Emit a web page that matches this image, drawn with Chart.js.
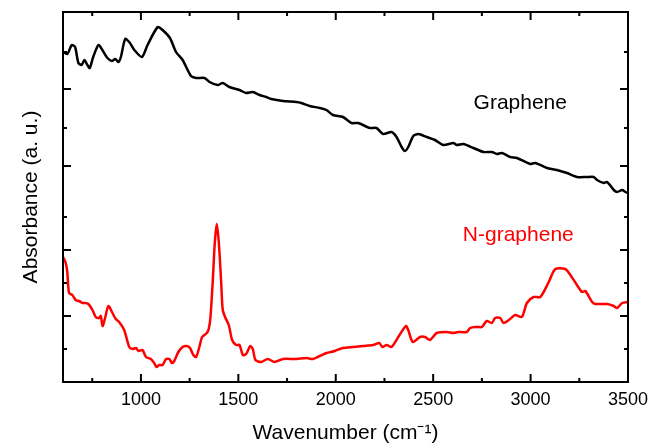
<!DOCTYPE html>
<html>
<head>
<meta charset="utf-8">
<script src="https://cdn.jsdelivr.net/npm/chart.js@4/dist/chart.umd.min.js"></script>
<style>
  body { margin: 0; background: #fff; }
  #wrap { width: 649px; height: 445px; }
</style>
</head>
<body>
<div id="wrap"><canvas id="chart1"></canvas></div>
<script>
// FTIR spectra, wavenumber in cm-1, absorbance in arbitrary units (curves offset)
const grapheneWn = [600, 622, 645, 662, 679, 696, 710, 725, 737, 755, 782, 802, 828, 851, 868, 885, 897, 919, 940, 966,
  1005, 1034, 1086, 1111, 1149, 1180, 1214, 1257, 1283, 1326, 1352, 1394, 1420, 1454, 1506, 1540, 1574, 1609, 1643, 1669,
  1729, 1798, 1823, 1866, 1918, 1952, 1986, 2037, 2081, 2115, 2175, 2209, 2243, 2286, 2312, 2338, 2355, 2372, 2398, 2424,
  2467, 2509, 2552, 2604, 2621, 2655, 2707, 2758, 2801, 2827, 2853, 2895, 2930, 2998, 3024, 3084, 3135, 3187, 3239, 3290,
  3324, 3341, 3376, 3393, 3427, 3444, 3470, 3487, 3500];
const grapheneAbs = [330, 328, 337, 335, 319, 317, 322, 317, 314, 325, 337, 332, 324, 321, 323, 320, 325, 343, 340, 332,
  325, 337, 355, 352, 344, 330, 322, 306, 304, 304, 300, 297, 299, 295, 292, 289, 290, 287, 285, 283,
  281, 280, 279, 276, 274, 272, 267, 265, 259, 259, 254, 254, 248, 250, 245, 235, 231, 235, 246, 248,
  245, 242, 237, 239, 237, 238, 234, 230, 230, 228, 229, 225, 224, 218, 219, 214, 212, 209, 205, 205,
  205, 202, 199, 200, 192, 190, 192, 190, 189];

const nGrapheneWn = [600, 614, 622, 631, 648, 665, 682, 700, 713, 730, 751, 768, 785, 794, 803, 816, 833, 854, 871, 888,
  914, 940, 957, 974, 988, 1008, 1026, 1051, 1068, 1080, 1094, 1111, 1129, 1146, 1159, 1171, 1192, 1214, 1235, 1252,
  1269, 1283, 1300, 1314, 1338, 1348, 1357, 1369, 1379, 1389, 1400, 1412, 1420, 1434, 1451, 1468, 1489, 1506, 1523, 1540,
  1561, 1574, 1588, 1617, 1651, 1686, 1729, 1798, 1849, 1883, 1918, 1952, 1995, 2037, 2089, 2141, 2192, 2223, 2240, 2261,
  2286, 2321, 2360, 2372, 2395, 2432, 2458, 2484, 2518, 2569, 2604, 2629, 2672, 2690, 2724, 2750, 2775, 2801, 2818, 2844,
  2861, 2895, 2921, 2955, 2981, 3015, 3050, 3093, 3127, 3178, 3204, 3238, 3264, 3281, 3316, 3333, 3393, 3427, 3444, 3470,
  3500];
const nGrapheneAbs = [125, 119, 110, 89, 87, 82, 81, 79, 79, 78, 72, 65, 64, 66, 56, 64, 76, 69, 63, 60,
  52, 35, 33, 34, 31, 32, 25, 23, 19, 15, 17, 17, 23, 23, 19, 21, 30, 35, 36, 34,
  27, 25, 35, 45, 49, 53, 65, 102, 139, 158, 139, 99, 72, 64, 57, 42, 37, 37, 27, 28,
  36, 33, 22, 20, 23, 20, 23, 23, 24, 23, 26, 29, 31, 34, 35, 36, 37, 39, 35, 37,
  35, 45, 56, 52, 40, 45, 45, 42, 49, 50, 49, 50, 50, 54, 55, 55, 61, 59, 64, 64,
  59, 63, 67, 65, 79, 85, 85, 100, 113, 113, 107, 97, 90, 91, 80, 78, 78, 76, 74, 79,
  80];

const xMajorTicks = [1000, 1500, 2000, 2500, 3000, 3500];
const xMinorTicks = [750, 1250, 1750, 2250, 2750, 3250];
const yMajorTicks = [66, 132, 216, 293];
const yMinorTicks = [33, 99, 165, 254, 330];

const FONT = "'Liberation Sans', Arial, sans-serif";

const toPoints = (xs, ys) => xs.map((x, i) => ({ x: x, y: ys[i] }));

// frame with inward ticks on all four sides, plus the curve names
const framePlugin = {
  id: 'frame',
  afterDatasetsDraw(chart) {
    const { ctx, chartArea: a, scales: { x, y } } = chart;
    ctx.save();
    ctx.strokeStyle = '#000';
    ctx.lineWidth = 2;
    ctx.strokeRect(a.left, a.top, a.right - a.left, a.bottom - a.top);
    ctx.beginPath();
    const xTick = (v, len) => {
      const px = x.getPixelForValue(v);
      ctx.moveTo(px, a.bottom); ctx.lineTo(px, a.bottom - len);
      ctx.moveTo(px, a.top); ctx.lineTo(px, a.top + len);
    };
    const yTick = (v, len) => {
      const py = y.getPixelForValue(v);
      ctx.moveTo(a.left, py); ctx.lineTo(a.left + len, py);
      ctx.moveTo(a.right, py); ctx.lineTo(a.right - len, py);
    };
    xMajorTicks.forEach(v => xTick(v, 8));
    xMinorTicks.forEach(v => xTick(v, 4));
    yMajorTicks.forEach(v => yTick(v, 8));
    yMinorTicks.forEach(v => yTick(v, 4));
    ctx.stroke();

    ctx.font = '21px ' + FONT;
    ctx.textAlign = 'center';
    ctx.textBaseline = 'middle';
    ctx.fillStyle = '#000';
    ctx.fillText('Graphene', x.getPixelForValue(2947), y.getPixelForValue(279));
    ctx.fillStyle = '#ff0000';
    ctx.fillText('N-graphene', x.getPixelForValue(2937), y.getPixelForValue(147));
    ctx.restore();
  }
};

const ctx = document.getElementById('chart1');
new Chart(ctx, {
  type: 'line',
  data: {
    datasets: [
      {
        label: 'Graphene',
        data: toPoints(grapheneWn, grapheneAbs),
        borderColor: '#000',
        borderWidth: 2.5,
        pointRadius: 0,
        tension: 0.25,
        fill: false,
      },
      {
        label: 'N-graphene',
        data: toPoints(nGrapheneWn, nGrapheneAbs),
        borderColor: '#ff0000',
        borderWidth: 2.5,
        pointRadius: 0,
        tension: 0.25,
        fill: false,
      },
    ],
  },
  options: {
    responsive: true,
    maintainAspectRatio: false,
    animation: false,
    layout: { padding: { top: 12, right: 21, left: 0, bottom: 0 } },
    scales: {
      x: {
        type: 'linear',
        min: 600,
        max: 3500,
        afterBuildTicks: s => { s.ticks = xMajorTicks.map(v => ({ value: v })); },
        afterFit: s => { s.height = 63; },
        grid: { display: false, drawTicks: false },
        border: { display: false },
        ticks: {
          color: '#000',
          font: { family: FONT, size: 18, lineHeight: 2 },
          padding: 0,
          maxRotation: 0,
          callback: v => String(v),
        },
        title: {
          display: true,
          text: 'Wavenumber (cm\u207B\u00B9)',
          color: '#000',
          font: { family: FONT, size: 21, lineHeight: 1 },
          padding: { top: 0, bottom: 1 },
        },
      },
      y: {
        type: 'linear',
        min: 0,
        max: 370,
        afterFit: s => { s.width = 63; },
        grid: { display: false, drawTicks: false },
        border: { display: false },
        ticks: { display: false },
        title: {
          display: true,
          text: 'Absorbance (a. u.)',
          color: '#000',
          font: { family: FONT, size: 21, lineHeight: 1 },
          padding: { top: 21, bottom: 0 },
        },
      },
    },
    plugins: {
      legend: { display: false },
      tooltip: { enabled: false },
    },
  },
  plugins: [framePlugin],
});
</script>
</body>
</html>
